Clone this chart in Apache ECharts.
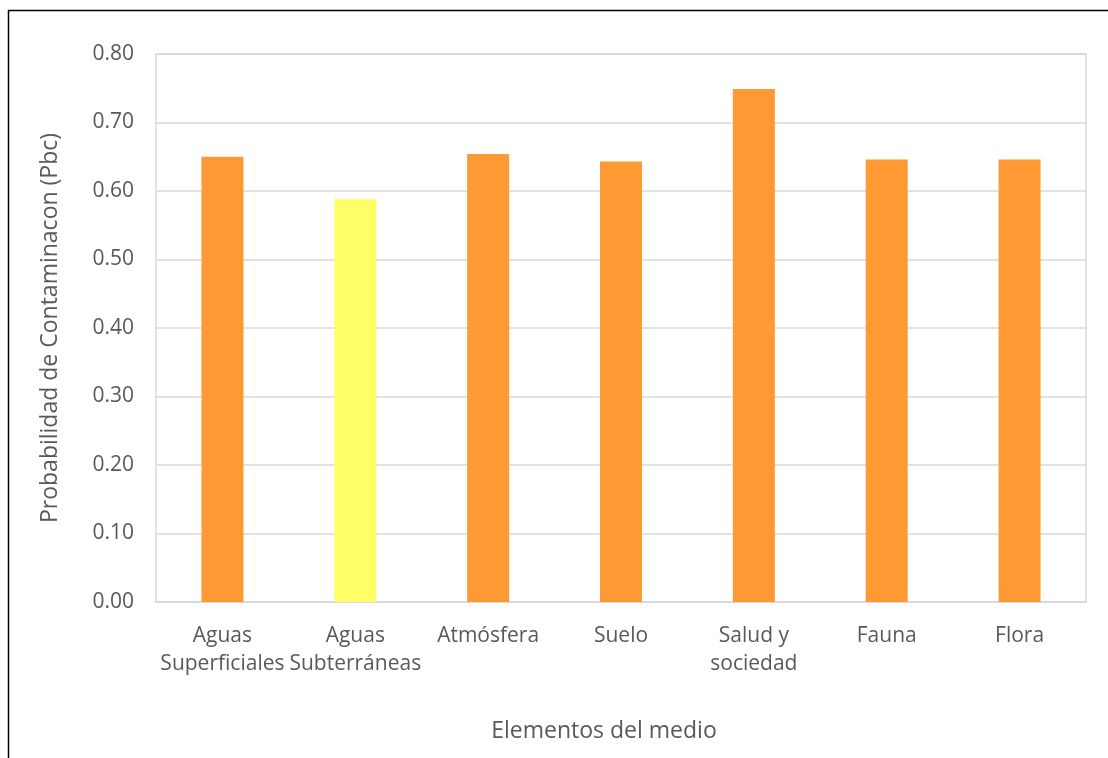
<!DOCTYPE html>
<html><head><meta charset="utf-8">
<script src="https://cdn.jsdelivr.net/npm/echarts@6/dist/echarts.min.js"></script>
<style>html,body{margin:0;padding:0;background:#fff}#c{width:1108px;height:758px}</style>
</head><body><div id="c"></div>
<script>
const categories = ["Aguas\nSuperficiales", "Aguas\nSubterráneas", "Atmósfera", "Suelo", "Salud y\nsociedad", "Fauna", "Flora"];
const values = [0.650, 0.588, 0.654, 0.643, 0.749, 0.646, 0.646];
const barColors = ["#FF9933", "#FFFF66", "#FF9933", "#FF9933", "#FF9933", "#FF9933", "#FF9933"];
const yTicks = { min: 0, max: 0.8, interval: 0.1 };

const font = "'Open Sans', sans-serif";
const chart = echarts.init(document.getElementById('c'), null, {renderer: 'canvas'});
chart.setOption({
  animation: false,
  backgroundColor: '#fff',
  graphic: [
    {type: 'line', shape: {x1: 8, y1: 10.5, x2: 1120, y2: 10.5}, style: {stroke: '#000', lineWidth: 1.5}},
    {type: 'line', shape: {x1: 8.5, y1: 10, x2: 8.5, y2: 770}, style: {stroke: '#000', lineWidth: 1.5}}
  ],
  grid: {left: 156, right: 22, top: 54, bottom: 156, show: true, borderColor: '#d9d9d9', borderWidth: 1.5},
  xAxis: {
    type: 'category', data: categories,
    name: 'Elementos del medio', nameLocation: 'middle', nameGap: 118,
    nameTextStyle: {fontFamily: font, fontSize: 23, color: '#595959', padding: [0, 34, 0, 0]},
    axisLine: {show: true, lineStyle: {color: '#d9d9d9', width: 1.5}},
    axisTick: {show: false},
    axisLabel: {fontFamily: font, fontSize: 21, color: '#595959', margin: 20, lineHeight: 28, interval: 0}
  },
  yAxis: {
    type: 'value', min: yTicks.min, max: yTicks.max, interval: yTicks.interval,
    name: 'Probabilidad de Contaminacon (Pbc)', nameLocation: 'middle', nameGap: 94,
    nameTextStyle: {fontFamily: font, fontSize: 23, color: '#595959'},
    axisLine: {show: false}, axisTick: {show: false},
    axisLabel: {fontFamily: font, fontSize: 21, color: '#595959', margin: 22, formatter: v => v.toFixed(2)},
    splitLine: {lineStyle: {color: '#d9d9d9', width: 1.5}}
  },
  series: [{
    type: 'bar', barWidth: 42,
    data: values.map((v, i) => ({value: v, itemStyle: {color: barColors[i]}}))
  }]
});
</script></body></html>
